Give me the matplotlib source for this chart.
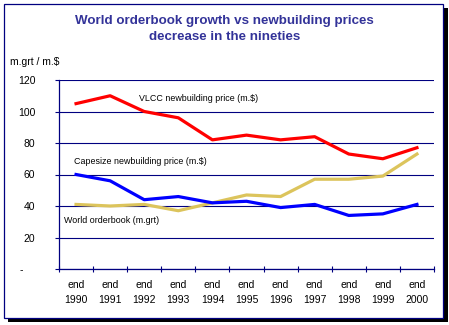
import matplotlib.pyplot as plt
from matplotlib.patches import Rectangle
import numpy as np

# Year-end figures, 1990 - 2000
years = ["1990", "1991", "1992", "1993", "1994", "1995",
         "1996", "1997", "1998", "1999", "2000"]
vlcc_price = [105, 110, 100, 96, 82, 85, 82, 84, 73, 70, 77]
capesize_price = [41, 40, 41, 37, 42, 47, 46, 57, 57, 59, 73]
orderbook = [60, 56, 44, 46, 42, 43, 39, 41, 34, 35, 41]
y_ticks = [0, 20, 40, 60, 80, 100, 120]
y_labels = ["-    ", "20", "40", "60", "80", "100", "120"]

navy = "#000080"
title_col = "#333399"

plt.rcParams["font.family"] = ["Liberation Sans", "DejaVu Sans"]

fig = plt.figure(figsize=(4.49, 3.25), dpi=100)

# framed panel with a black drop shadow
fig.patches.append(Rectangle((8 / 449, 3 / 325), 440 / 449, 314 / 325,
                             transform=fig.transFigure, facecolor="black",
                             edgecolor="none", zorder=-3))
fig.patches.append(Rectangle((4 / 449, 7 / 325), 439 / 449, 314 / 325,
                             transform=fig.transFigure, facecolor="white",
                             edgecolor=navy, linewidth=0.9, zorder=-2))

ax = fig.add_axes([59 / 449, 56 / 325, 375 / 449, 189 / 325])
ax.set_facecolor("none")

x = np.arange(len(years))
ax.plot(x, vlcc_price, color="#FF0000", lw=2.3, zorder=3)
ax.plot(x, capesize_price, color="#DCC45C", lw=2.3, zorder=3)
ax.plot(x, orderbook, color="#0000FF", lw=2.3, zorder=4)

ax.set_xlim(-0.5, len(years) - 0.5)
ax.set_ylim(0, 120)

ax.set_yticks(y_ticks)
ax.set_yticklabels(y_labels, fontsize=7.5)
ax.yaxis.grid(True, color=navy, linewidth=0.8)
ax.set_axisbelow(True)

# tick marks between categories, labels centred under each year
ax.set_xticks(np.arange(-0.5, len(years), 1.0))
ax.set_xticklabels([])
ax.set_xticks(x, minor=True)
ax.set_xticklabels(["end\n" + y for y in years], minor=True,
                   fontsize=7.5, linespacing=1.6)
ax.tick_params(axis="x", which="major", direction="inout", length=5,
               color=navy, width=0.8)
ax.tick_params(axis="x", which="minor", length=0, pad=8)
ax.tick_params(axis="y", direction="out", length=3, color=navy,
               width=0.8, pad=14)

for side in ["top", "right"]:
    ax.spines[side].set_visible(False)
for side in ["left", "bottom"]:
    ax.spines[side].set_color(navy)
    ax.spines[side].set_linewidth(0.9)

ax.text(1.85, 108, "VLCC newbuilding price (m.$)", fontsize=6.4, va="center")
ax.text(-0.05, 68, "Capesize newbuilding price (m.$)", fontsize=6.4,
        va="center")
ax.text(-0.35, 31, "World orderbook (m.grt)", fontsize=6.4, va="center")

fig.text(10 / 449, 1 - 62 / 325, "m.grt / m.$", fontsize=7.5, va="center")
fig.text(0.5, 1 - 29 / 325,
         "World orderbook growth vs newbuilding prices\ndecrease in the nineties",
         ha="center", va="center", fontsize=9.6, fontweight="bold",
         color=title_col, linespacing=1.45)

fig.savefig("out.png", dpi=100)
